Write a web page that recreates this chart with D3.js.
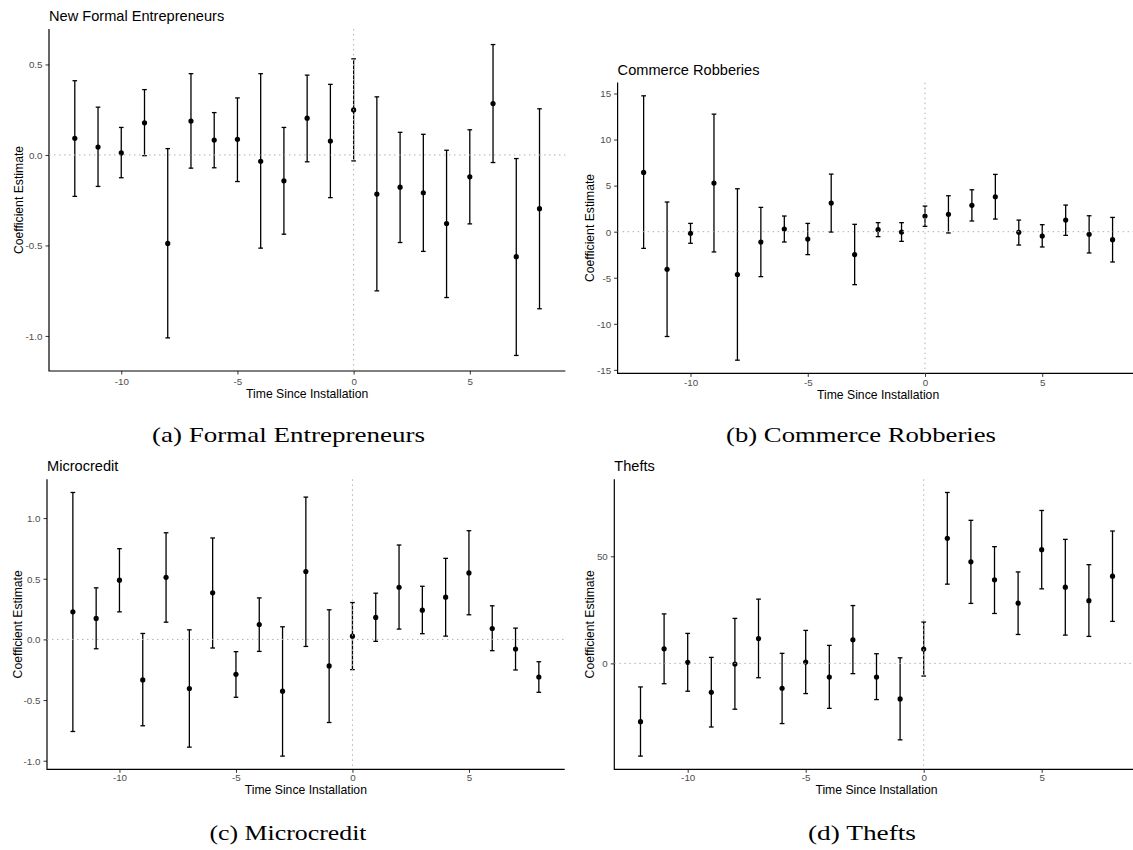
<!DOCTYPE html>
<html>
<head>
<meta charset="utf-8">
<script src="https://cdn.jsdelivr.net/npm/d3@7"></script>
<style>
  body { margin: 0; background: #fff; }
  svg { display: block; }
</style>
</head>
<body>
<svg id="fig" width="1133" height="850"></svg>
<script>
// Event-study periods (time since installation)
const periods = [-12, -11, -10, -9, -8, -7, -6, -5, -4, -3, -2, -1, 0, 1, 2, 3, 4, 5, 6, 7, 8];

// (a) New formal entrepreneurs
const entrepEst = [0.092, 0.044, 0.011, 0.178, -0.489, 0.187, 0.082, 0.086, -0.035, -0.143, 0.203, 0.077, 0.249, -0.216, -0.178, -0.209, -0.379, -0.121, 0.284, -0.562, -0.297];
const entrepLo  = [-0.229, -0.174, -0.126, -0.004, -1.011, -0.073, -0.071, -0.147, -0.515, -0.438, -0.038, -0.236, -0.033, -0.751, -0.484, -0.533, -0.788, -0.381, -0.042, -1.108, -0.850];
const entrepHi  = [0.410, 0.264, 0.152, 0.361, 0.035, 0.449, 0.234, 0.315, 0.449, 0.152, 0.441, 0.390, 0.531, 0.321, 0.125, 0.114, 0.026, 0.139, 0.610, -0.020, 0.255];

// (b) Commerce robberies
const robberyEst = [6.43, -4.08, -0.18, 5.28, -4.66, -1.12, 0.29, -0.80, 3.11, -2.49, 0.22, -0.04, 1.70, 1.88, 2.86, 3.79, -0.07, -0.47, 1.26, -0.29, -0.87];
const robberyLo  = [-1.81, -11.38, -1.26, -2.20, -13.95, -4.88, -1.12, -2.49, -0.04, -5.75, -0.54, -1.05, 0.58, -0.14, 1.16, 1.37, -1.45, -1.66, -0.40, -2.31, -3.29];
const robberyHi  = [14.75, 3.22, 0.90, 12.76, 4.66, 2.64, 1.70, 0.90, 6.25, 0.80, 0.98, 0.98, 2.78, 3.90, 4.55, 6.22, 1.26, 0.76, 2.89, 1.73, 1.55];

// (c) Microcredit
const creditEst = [0.227, 0.173, 0.488, -0.334, 0.512, -0.405, 0.384, -0.288, 0.123, -0.427, 0.559, -0.219, 0.027, 0.181, 0.430, 0.241, 0.348, 0.548, 0.090, -0.079, -0.310];
const creditLo  = [-0.759, -0.077, 0.227, -0.712, 0.142, -0.888, -0.071, -0.477, -0.099, -0.962, -0.058, -0.685, -0.249, -0.016, 0.085, 0.047, 0.027, 0.203, -0.093, -0.252, -0.436];
const creditHi  = [1.211, 0.425, 0.748, 0.049, 0.879, 0.079, 0.836, -0.101, 0.342, 0.104, 1.173, 0.244, 0.304, 0.381, 0.778, 0.438, 0.668, 0.896, 0.277, 0.093, -0.184];

// (d) Thefts
const theftEst = [-27.2, 6.8, 0.5, -13.5, -0.3, 11.6, -11.6, 0.6, -6.4, 11.0, -6.4, -16.6, 6.7, 58.4, 47.4, 39.0, 28.1, 53.1, 35.6, 29.3, 40.7];
const theftLo  = [-43.3, -9.5, -13.0, -29.7, -21.4, -6.7, -28.1, -14.1, -21.0, -4.8, -16.9, -35.7, -5.9, 37.0, 28.0, 23.3, 13.5, 34.8, 13.2, 12.6, 19.6];
const theftHi  = [-11.0, 23.1, 14.0, 2.8, 21.0, 30.0, 4.7, 15.4, 8.4, 27.0, 4.5, 2.6, 19.3, 79.8, 66.8, 54.5, 42.7, 71.4, 57.9, 46.1, 61.8];

// Tick labels
const xTicks = [-10, -5, 0, 5];
const entrepTicks = [-1.0, -0.5, 0.0, 0.5];
const robberyTicks = [-15, -10, -5, 0, 5, 10, 15];
const creditTicks = [-1.0, -0.5, 0.0, 0.5, 1.0];
const theftTicks = [0, 50];

// Panel titles and captions
const panelTitles = ["New Formal Entrepreneurs", "Commerce Robberies", "Microcredit", "Thefts"];
const captions = ["(a) Formal Entrepreneurs", "(b) Commerce Robberies", "(c) Microcredit", "(d) Thefts"];

const xTitle = "Time Since Installation";
const yTitle = "Coefficient Estimate";

// Layout of each plotting panel on the page
const panels = [
  { est: entrepEst, lo: entrepLo, hi: entrepHi, ticks: entrepTicks, fmt: d3.format(".1f"),
    x0: 49, x1: 565.3, y0: 29, y1: 371, titleY: 20.5, yTitleX: 19, xLabY: 382, xTitleY: 394,
    caption: { x: 288.5, y: 442, w: 273 } },
  { est: robberyEst, lo: robberyLo, hi: robberyHi, ticks: robberyTicks, fmt: d3.format("d"),
    x0: 617.6, x1: 1138.6, y0: 82.6, y1: 373.4, titleY: 75, yTitleX: 590, xLabY: 382.7, xTitleY: 395,
    caption: { x: 861, y: 442, w: 270 } },
  { est: creditEst, lo: creditLo, hi: creditHi, ticks: creditTicks, fmt: d3.format(".1f"),
    x0: 47, x1: 564.7, y0: 479.3, y1: 769.3, titleY: 470.7, yTitleX: 17.5, xLabY: 778, xTitleY: 790,
    caption: { x: 288, y: 840, w: 157 } },
  { est: theftEst, lo: theftLo, hi: theftHi, ticks: theftTicks, fmt: d3.format("d"),
    x0: 614.3, x1: 1138.7, y0: 479.3, y1: 769.3, titleY: 470.7, yTitleX: 590, xLabY: 778, xTitleY: 790,
    caption: { x: 862, y: 840, w: 108 } }
];

const svg = d3.select("#fig");
const capWidth = 0.2;          // error-bar cap width in x units
const sans = "'Liberation Sans', Arial, sans-serif";
const minus = s => String(s).replace("\u2212", "-");

panels.forEach((p, i) => {
  const g = svg.append("g");

  // 5% expansion of the data range on both axes
  const xMin = d3.min(periods) - capWidth / 2, xMax = d3.max(periods) + capWidth / 2;
  const xPad = (xMax - xMin) * 0.05;
  const x = d3.scaleLinear().domain([xMin - xPad, xMax + xPad]).range([p.x0, p.x1]);

  const yMin = d3.min(p.lo), yMax = d3.max(p.hi);
  const yPad = (yMax - yMin) * 0.05;
  const y = d3.scaleLinear().domain([yMin - yPad, yMax + yPad]).range([p.y1, p.y0]);

  const rows = periods.map((t, k) => ({ t, est: p.est[k], lo: p.lo[k], hi: p.hi[k] }));

  // Axes
  const yAxis = d3.axisLeft(y).tickValues(p.ticks).tickSize(3.5).tickPadding(3)
    .tickFormat(d => minus(p.fmt(d)));
  const yG = g.append("g").attr("transform", `translate(${p.x0},0)`).call(yAxis);
  const xAxis = d3.axisBottom(x).tickValues(xTicks).tickSize(3.5).tickPadding(3)
    .tickFormat(d => minus(d3.format("d")(d)));
  const xG = g.append("g").attr("transform", `translate(0,${p.y1})`).call(xAxis);

  [yG, xG].forEach(a => {
    a.select(".domain").remove();
    a.selectAll(".tick line").attr("stroke", "#333").attr("stroke-width", 1);
    a.selectAll(".tick text").attr("fill", "#4d4d4d").style("font-family", sans).style("font-size", "9.8px");
  });
  yG.selectAll(".tick text").attr("dy", "0.34em");
  xG.selectAll(".tick text").attr("y", p.xLabY - p.y1).attr("dy", "0.34em");

  // Axis lines (L-shaped frame)
  g.append("path")
    .attr("d", `M${p.x0},${p.y0}V${p.y1}H${p.x1}`)
    .attr("fill", "none").attr("stroke", "#000").attr("stroke-width", 1.2);

  // Error bars
  const bars = g.append("g").attr("stroke", "#000").attr("stroke-width", 1.3).attr("fill", "none");
  bars.selectAll("line.v").data(rows).join("line").attr("class", "v")
    .attr("x1", d => x(d.t)).attr("x2", d => x(d.t))
    .attr("y1", d => y(d.lo)).attr("y2", d => y(d.hi));
  ["lo", "hi"].forEach(k => {
    bars.selectAll("line." + k).data(rows).join("line").attr("class", k)
      .attr("x1", d => x(d.t - capWidth / 2)).attr("x2", d => x(d.t + capWidth / 2))
      .attr("y1", d => y(d[k])).attr("y2", d => y(d[k]));
  });

  // Point estimates
  g.append("g").selectAll("circle").data(rows).join("circle")
    .attr("cx", d => x(d.t)).attr("cy", d => y(d.est)).attr("r", 2.6).attr("fill", "#000");

  // Reference lines at zero, drawn over the estimates
  g.append("line")
    .attr("x1", p.x0).attr("x2", p.x1).attr("y1", y(0)).attr("y2", y(0))
    .attr("stroke", "#b0b0b0").attr("stroke-width", 1).attr("stroke-dasharray", "1.5,3.5");
  g.append("line")
    .attr("x1", x(0)).attr("x2", x(0)).attr("y1", p.y0).attr("y2", p.y1)
    .attr("stroke", "#b0b0b0").attr("stroke-width", 1).attr("stroke-dasharray", "1.5,3.5");

  // Panel title
  g.append("text").attr("x", p.x0).attr("y", p.titleY)
    .style("font-family", sans).style("font-size", "14.6px").attr("fill", "#000")
    .text(panelTitles[i]);

  // Axis titles
  g.append("text").attr("x", (p.x0 + p.x1) / 2).attr("y", p.xTitleY).attr("dy", "0.35em")
    .attr("text-anchor", "middle").style("font-family", sans).style("font-size", "12.2px")
    .text(xTitle);
  g.append("text")
    .attr("transform", `translate(${p.yTitleX},${(p.y0 + p.y1) / 2}) rotate(-90)`)
    .attr("dy", "0.35em").attr("text-anchor", "middle")
    .style("font-family", sans).style("font-size", "12.2px")
    .text(yTitle);

  // Sub-figure caption
  svg.append("text").attr("x", p.caption.x).attr("y", p.caption.y)
    .attr("text-anchor", "middle")
    .attr("textLength", p.caption.w).attr("lengthAdjust", "spacingAndGlyphs")
    .style("font-family", "'Liberation Serif', 'Times New Roman', serif").style("font-size", "22px")
    .attr("fill", "#000")
    .text(captions[i]);
});
</script>
</body>
</html>
